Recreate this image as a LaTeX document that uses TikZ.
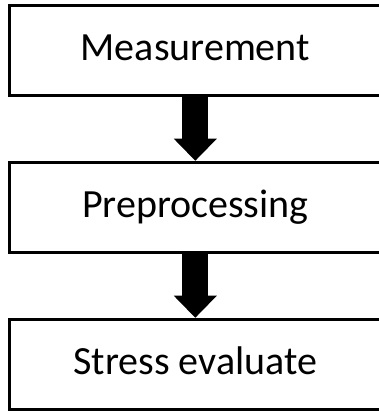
\documentclass[tikz,border=0pt]{standalone}
\usepackage{fontspec}
\setmainfont{Carlito}
\usetikzlibrary{positioning,arrows.meta}

\begin{document}
\begin{tikzpicture}[x=1pt, y=1pt, node distance=63.5pt,
		stage/.style={draw, line width=3.5pt, minimum width=372pt, minimum height=90pt,
			text height=20pt, text depth=0pt, font=\fontsize{40}{48}\selectfont},
		flow/.style={line width=26pt, -{Triangle[width=43pt, length=22pt, line width=0pt]}}]
			\useasboundingbox (0,0) rectangle (378,414);
			\node[stage] (meas) at (195.3,363.5) {Measurement};
			\node[stage, below=of meas] (prep) {Preprocessing};
			\node[stage, below=of prep] (eval) {Stress evaluate};
			\draw[flow] (meas) -- (prep);
			\draw[flow] (prep) -- (eval);
		\end{tikzpicture}
\end{document}
